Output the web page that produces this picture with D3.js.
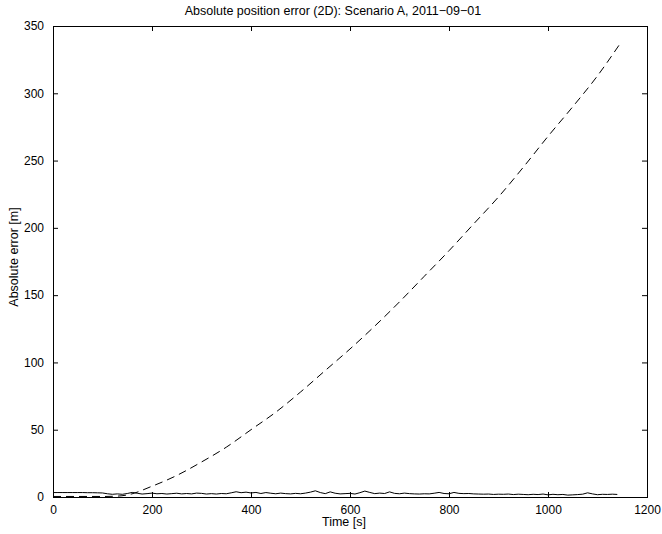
<!DOCTYPE html>
<html>
<head>
<meta charset="utf-8">
<script src="https://cdn.jsdelivr.net/npm/d3@7"></script>
<style>
  html, body { margin: 0; padding: 0; background: #fff; }
  svg { display: block; font-family: "Liberation Sans", Arial, Helvetica, sans-serif; }
</style>
</head>
<body>
<svg id="chart" width="662" height="534"></svg>
<script>
// Absolute 2D position error over time, scenario A (2011-09-01)
const titleText = "Absolute position error (2D): Scenario A, 2011\u221209\u221201";
const xLabel = "Time [s]";
const yLabel = "Absolute error [m]";

const xTicks = [0, 200, 400, 600, 800, 1000, 1200];
const yTicks = [0, 50, 100, 150, 200, 250, 300, 350];

// Dead-reckoning only (dashed): time [s] and error [m]
const driftTime = [0, 50, 100, 120, 150, 200, 250, 300, 350, 400, 450, 500, 550, 600,
                   650, 700, 750, 800, 850, 900, 950, 1000, 1050, 1100, 1144];
const driftError = [0.4, 0.4, 0.4, 0.5, 1.5, 8, 16, 26, 37, 50, 63, 78, 94, 110,
                    127, 145, 164, 183, 203, 223, 245, 268, 290, 313, 336];

// Fused solution (solid): sampled every 10 s from 0 to 1140 s
const fusedStep = 10;
const fusedError = [
  3.3, 3.3, 3.3, 3.3, 3.3, 3.3, 3.3, 3.2, 3.2, 3.1, 3.0,
  2.4, 2.0, 2.3, 2.0, 2.6, 3.4, 2.8, 2.2, 2.5, 2.9,
  2.4, 2.6, 2.2, 2.5, 2.8, 2.3, 2.6, 2.3, 2.9, 2.7,
  2.2, 2.5, 2.2, 2.6, 2.4, 3.1, 3.9, 3.2, 3.6, 3.0,
  3.4, 2.6, 3.3, 2.8, 2.4, 2.9, 2.5, 2.3, 2.7, 2.4,
  2.9, 3.6, 4.6, 3.3, 2.5, 3.8, 2.8, 2.3, 2.5, 2.7,
  2.2, 3.2, 4.4, 3.4, 2.5, 2.9, 2.6, 3.8, 2.7, 2.4,
  2.9, 2.5, 2.3, 2.2, 2.4, 2.3, 2.8, 3.4, 2.6, 2.4,
  3.4, 2.7, 2.5, 2.6, 2.3, 2.2, 2.1, 2.2, 1.9, 2.1,
  2.0, 2.2, 1.8, 2.1, 1.9, 1.7, 2.0, 1.8, 2.2, 1.6,
  2.0, 1.7, 1.9, 1.4, 1.6, 1.8, 2.1, 3.1, 2.3, 1.7,
  2.0, 1.9, 2.1, 1.9
];

const W = 662, H = 534;
const margin = { top: 26, right: 15, bottom: 37, left: 53 };
const iw = W - margin.left - margin.right;
const ih = H - margin.top - margin.bottom;

const svg = d3.select("#chart");
const g = svg.append("g").attr("transform", `translate(${margin.left},${margin.top})`);

const x = d3.scaleLinear().domain([0, 1200]).range([0, iw]);
const y = d3.scaleLinear().domain([0, 350]).range([ih, 0]);

// Axes with inward ticks on all four sides
const tickLen = 5;
const fontSize = 12;
const fmt = d3.format("d");

const bottomAxis = d3.axisBottom(x).tickValues(xTicks).tickFormat(fmt).tickSizeInner(-tickLen).tickSizeOuter(0).tickPadding(tickLen + 3);
const topAxis = d3.axisTop(x).tickValues(xTicks).tickSizeInner(-tickLen).tickSizeOuter(0).tickFormat("");
const leftAxis = d3.axisLeft(y).tickValues(yTicks).tickFormat(fmt).tickSizeInner(-tickLen).tickSizeOuter(0).tickPadding(tickLen + 4);
const rightAxis = d3.axisRight(y).tickValues(yTicks).tickSizeInner(-tickLen).tickSizeOuter(0).tickFormat("");

function styleAxis(sel) {
  sel.select(".domain").remove();
  sel.selectAll(".tick line").attr("stroke", "#000").attr("stroke-width", 1);
  sel.selectAll(".tick text").attr("fill", "#000").attr("font-size", fontSize)
     .attr("font-family", "'Liberation Sans', Arial, Helvetica, sans-serif");
}

g.append("g").attr("transform", `translate(0,${ih})`).call(bottomAxis).call(styleAxis);
g.append("g").call(topAxis).call(styleAxis);
g.append("g").call(leftAxis).call(styleAxis);
g.append("g").attr("transform", `translate(${iw},0)`).call(rightAxis).call(styleAxis);

// Data lines
g.append("clipPath").attr("id", "plotClip")
  .append("rect").attr("x", 0).attr("y", 0).attr("width", iw).attr("height", ih);

const driftData = driftTime.map((t, i) => ({ t, v: driftError[i] }));
const fusedData = fusedError.map((v, i) => ({ t: i * fusedStep, v }));

const line = d3.line().x(d => x(d.t)).y(d => y(d.v));

g.append("path")
  .datum(fusedData)
  .attr("fill", "none")
  .attr("stroke", "#000")
  .attr("stroke-width", 1)
  .attr("clip-path", "url(#plotClip)")
  .attr("d", line);

g.append("path")
  .datum(driftData)
  .attr("fill", "none")
  .attr("stroke", "#000")
  .attr("stroke-width", 1)
  .attr("stroke-dasharray", "8,5")
  .attr("clip-path", "url(#plotClip)")
  .attr("d", line.curve(d3.curveMonotoneX));

// Plot box
g.append("rect")
  .attr("x", 0).attr("y", 0).attr("width", iw).attr("height", ih)
  .attr("fill", "none").attr("stroke", "#000").attr("stroke-width", 1)
  .attr("shape-rendering", "crispEdges");

// Title and axis labels
svg.append("text")
  .attr("x", 333).attr("y", 15)
  .attr("text-anchor", "middle").attr("font-size", 12.5).attr("fill", "#000")
  .text(titleText);

svg.append("text")
  .attr("x", 344).attr("y", 526)
  .attr("text-anchor", "middle").attr("font-size", 12.5).attr("fill", "#000")
  .text(xLabel);

svg.append("text")
  .attr("transform", "translate(18,257) rotate(-90)")
  .attr("text-anchor", "middle").attr("font-size", 12.5).attr("fill", "#000")
  .text(yLabel);
</script>
</body>
</html>
